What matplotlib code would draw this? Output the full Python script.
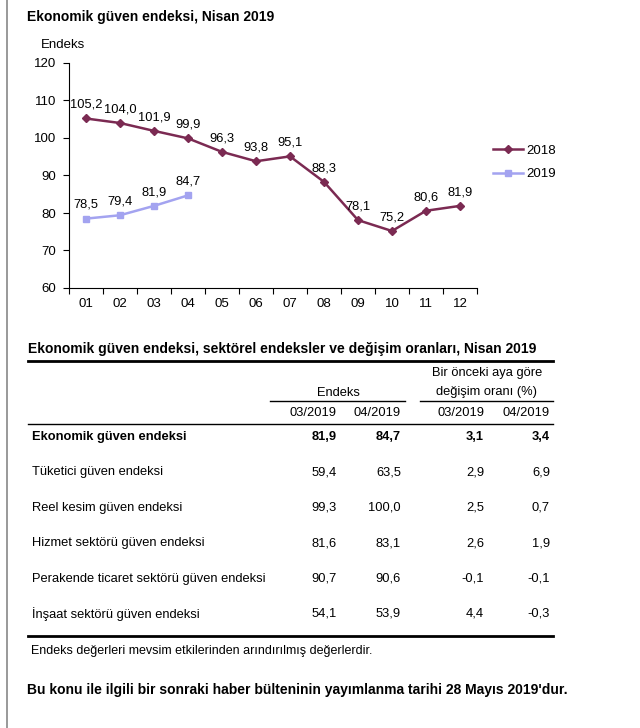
"""
Ekonomik güven endeksi, Nisan 2019 — line chart plus summary table.
"""
import numpy as np
import matplotlib
matplotlib.use("Agg")
import matplotlib.pyplot as plt
from matplotlib.lines import Line2D

months = ["01", "02", "03", "04", "05", "06", "07", "08", "09", "10", "11", "12"]
idx_2018 = [105.2, 104.0, 101.9, 99.9, 96.3, 93.8, 95.1, 88.3, 78.1, 75.2, 80.6, 81.9]
idx_2019 = [78.5, 79.4, 81.9, 84.7]

row_names = [
    "Ekonomik güven endeksi",
    "Tüketici güven endeksi",
    "Reel kesim güven endeksi",
    "Hizmet sektörü güven endeksi",
    "Perakende ticaret sektörü güven endeksi",
    "İnşaat sektörü güven endeksi",
]
endeks_03 = [81.9, 59.4, 99.3, 81.6, 90.7, 54.1]
endeks_04 = [84.7, 63.5, 100.0, 83.1, 90.6, 53.9]
degisim_03 = [3.1, 2.9, 2.5, 2.6, -0.1, 4.4]
degisim_04 = [3.4, 6.9, 0.7, 1.9, -0.1, -0.3]
col_labels = ["03/2019", "04/2019", "03/2019", "04/2019"]

W, H = 640, 728
C2018 = "#7b2a52"
C2019 = "#a3a3f0"


def fmt(v):
    return f"{v:.1f}".replace(".", ",")


def px(x, y):
    return x / W, 1 - y / H


def main():
    plt.rcParams.update({
        "font.family": ["Liberation Sans", "DejaVu Sans"],
        "font.size": 9.25,
        "axes.linewidth": 0.8,
    })
    fig = plt.figure(figsize=(W / 100, H / 100), dpi=100)

    # left page border
    fig.add_artist(Line2D([7 / W, 7 / W], [0, 1], color="#888888", linewidth=1.2))

    fig.text(*px(27, 17), "Ekonomik güven endeksi, Nisan 2019", fontsize=10,
             fontweight="bold", va="center", ha="left")

    l, r, t, b = 69, 477, 63, 288
    ax = fig.add_axes([l / W, 1 - b / H, (r - l) / W, (b - t) / H])
    x18 = np.arange(1, len(idx_2018) + 1)
    x19 = np.arange(1, len(idx_2019) + 1)
    ax.plot(x18, idx_2018, "-", marker="D", color=C2018, linewidth=1.8,
            markersize=4.5, label="2018")
    ax.plot(x19, idx_2019, "-", marker="s", color=C2019, linewidth=1.8,
            markersize=5, label="2019")
    for xs, ys in ((x18, idx_2018), (x19, idx_2019)):
        for xv, yv in zip(xs, ys):
            ax.annotate(fmt(yv), (xv, yv), xytext=(0, 5.5), textcoords="offset points",
                        ha="center", va="bottom", fontsize=9.25)

    ax.set_xlim(0.5, 12.5)
    ax.set_ylim(60, 120)
    ax.set_yticks(np.arange(60, 121, 10))
    ax.set_xticks(np.arange(0.5, 13, 1))
    ax.set_xticklabels([])
    ax.set_xticks(x18, minor=True)
    ax.set_xticklabels(months, minor=True)
    ax.tick_params(axis="x", which="minor", length=0, pad=7, labelsize=9.5)
    ax.tick_params(axis="x", which="major", length=4, direction="out")
    ax.tick_params(axis="y", length=4, direction="out", pad=5, labelsize=9.5)
    for s in ("top", "right"):
        ax.spines[s].set_visible(False)
    ax.text(-0.07, 1.08, "Endeks", transform=ax.transAxes, ha="left", va="center",
            fontsize=9.5)
    ax.legend(loc="center left", bbox_to_anchor=(481 / W, 1 - 162.5 / H),
              bbox_transform=fig.transFigure, frameon=False, handlelength=2.3,
              handletextpad=0.2, labelspacing=0.85, fontsize=9.5)

    # table
    fig.text(*px(28, 349), "Ekonomik güven endeksi, sektörel endeksler ve değişim oranları, Nisan 2019",
             fontsize=10, fontweight="bold", va="center", ha="left")
    x0, x1 = 28, 553

    def hline(y, xa, xb, lw):
        fig.add_artist(Line2D([xa / W, xb / W], [1 - y / H, 1 - y / H], color="black", linewidth=lw))

    hline(361, x0, x1, 2.0)
    hline(401, 270, 405, 1.0)
    hline(401, 420, x1, 1.0)
    hline(424, x0, x1, 1.0)
    hline(636, x0, x1, 2.0)

    fig.text(*px(338, 393), "Endeks", ha="center", va="center")
    fig.text(*px(487, 373), "Bir önceki aya göre", ha="center", va="center")
    fig.text(*px(487, 392), "değişim oranı (%)", ha="center", va="center")

    col_right = [337, 401, 484, 550]
    for xr, lab in zip(col_right, col_labels):
        fig.text(*px(xr, 413), lab, ha="right", va="center")

    cols = [endeks_03, endeks_04, degisim_03, degisim_04]
    for i, name in enumerate(row_names):
        y = 437 + i * 35.4
        weight = "bold" if i == 0 else "normal"
        fig.text(*px(32, y), name, ha="left", va="center", fontweight=weight)
        for xr, col in zip(col_right, cols):
            fig.text(*px(xr, y), fmt(col[i]), ha="right", va="center", fontweight=weight)

    fig.text(*px(31, 651), "Endeks değerleri mevsim etkilerinden arındırılmış değerlerdir.",
             ha="left", va="center", fontsize=9)
    fig.text(*px(27, 690), "Bu konu ile ilgili bir sonraki haber bülteninin yayımlanma tarihi 28 Mayıs 2019'dur.",
             ha="left", va="center", fontsize=10, fontweight="bold")

    fig.savefig("out.png", dpi=100)
    plt.close(fig)


if __name__ == "__main__":
    main()
